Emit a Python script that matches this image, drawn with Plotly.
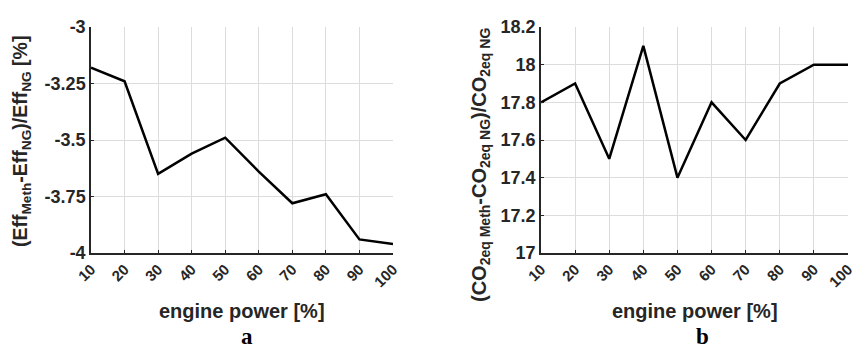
import plotly.graph_objects as go

power = [10, 20, 30, 40, 50, 60, 70, 80, 90, 100]
eff_diff = [-3.18, -3.24, -3.65, -3.56, -3.49, -3.64, -3.78, -3.74, -3.94, -3.96]
co2_diff = [17.8, 17.9, 17.5, 18.1, 17.4, 17.8, 17.6, 17.9, 18.0, 18.0]

left_yticks = [-4, -3.75, -3.5, -3.25, -3]
left_yticklabels = ["-4", "-3.75", "-3.5", "-3.25", "-3"]
right_yticks = [17, 17.2, 17.4, 17.6, 17.8, 18, 18.2]
right_yticklabels = ["17", "17.2", "17.4", "17.6", "17.8", "18", "18.2"]

W, H = 863, 353
dark = "#262626"
grid = "#dcdcdc"
fam = "Liberation Sans, Arial, sans-serif"
xfont = dict(family=fam, size=15, color=dark, weight="bold")
yfont = dict(family=fam, size=18, color=dark, weight="bold")

fig = go.Figure()
fig.add_trace(go.Scatter(x=power, y=eff_diff, mode="lines",
                         line=dict(color="black", width=2.5), xaxis="x", yaxis="y", showlegend=False))
fig.add_trace(go.Scatter(x=power, y=co2_diff, mode="lines",
                         line=dict(color="black", width=2.5), xaxis="x2", yaxis="y2", showlegend=False))

ydom = [1 - 253 / H, 1 - 27 / H]
common_x = dict(tickmode="array", tickvals=power, ticktext=[f"<b>{p}</b>" for p in power],
                tickangle=-45, showgrid=True, gridcolor=grid, gridwidth=1,
                showline=True, linecolor=dark, linewidth=1.5, ticks="inside", ticklen=3,
                tickcolor=dark, zeroline=False, tickfont=xfont, range=[10, 100], automargin=False)
common_y = dict(showgrid=True, gridcolor=grid, gridwidth=1, showline=True, linecolor=dark,
                linewidth=1.5, ticks="inside", ticklen=3, tickcolor=dark, zeroline=False,
                tickfont=yfont, tickmode="array", automargin=False)

fig.update_layout(
    width=W, height=H,
    margin=dict(l=0, r=0, t=0, b=0),
    paper_bgcolor="white", plot_bgcolor="white",
    xaxis=dict(domain=[91 / W, 393 / W], anchor="y", **common_x),
    yaxis=dict(domain=ydom, anchor="x", range=[-4, -3], tickvals=left_yticks,
               ticktext=[f"<b>{t}</b>" for t in left_yticklabels], **common_y),
    xaxis2=dict(domain=[541 / W, 848 / W], anchor="y2", **common_x),
    yaxis2=dict(domain=ydom, anchor="x2", range=[17, 18.2], tickvals=right_yticks,
                ticktext=[f"<b>{t}</b>" for t in right_yticklabels], **common_y),
)

xt_font = dict(family=fam, size=20, color=dark, weight="bold")
yt_font_l = dict(family=fam, size=19.5, color=dark, weight="bold")
yt_font_r = dict(family=fam, size=20, color=dark, weight="bold")
serif = dict(family="Liberation Serif, Times New Roman, serif", size=23, color="black", weight="bold")
annotations = [
    dict(text="<b>engine power [%]</b>", x=242 / W, y=1 - 311 / H, xref="paper", yref="paper",
         showarrow=False, font=xt_font, xanchor="center", yanchor="middle"),
    dict(text="<b>engine power [%]</b>", x=695 / W, y=1 - 311 / H, xref="paper", yref="paper",
         showarrow=False, font=xt_font, xanchor="center", yanchor="middle"),
    dict(text="<b>(Eff<sub>Meth</sub>-Eff<sub>NG</sub>)/Eff<sub>NG</sub> [%]</b>", x=21 / W, y=1 - 142 / H,
         xref="paper", yref="paper", showarrow=False, font=yt_font_l, textangle=-90,
         xanchor="center", yanchor="middle"),
    dict(text="<b>(CO<sub>2eq Meth</sub>-CO<sub>2eq NG</sub>)/CO<sub>2eq NG</sub></b>", x=481 / W, y=1 - 165 / H,
         xref="paper", yref="paper", showarrow=False, font=yt_font_r, textangle=-90,
         xanchor="center", yanchor="middle"),
    dict(text="<b>a</b>", x=247 / W, y=1 - 336 / H, xref="paper", yref="paper", showarrow=False,
         font=serif, xanchor="center", yanchor="middle"),
    dict(text="<b>b</b>", x=702 / W, y=1 - 336 / H, xref="paper", yref="paper", showarrow=False,
         font=serif, xanchor="center", yanchor="middle"),
]
fig.update_layout(annotations=annotations)

fig.write_html("out.html")
